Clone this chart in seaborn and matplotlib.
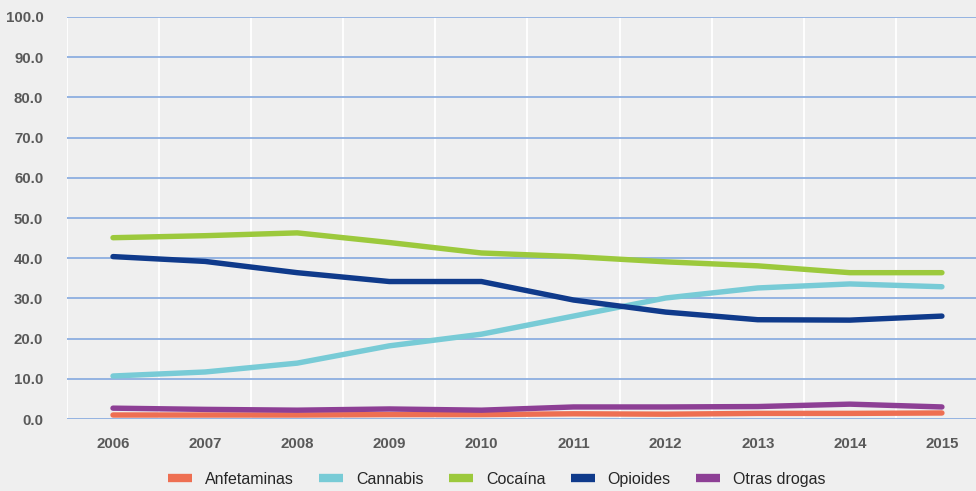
import matplotlib
matplotlib.use("Agg")
import matplotlib.pyplot as plt
import numpy as np
import pandas as pd
import seaborn as sns

years = ["2006", "2007", "2008", "2009", "2010", "2011", "2012", "2013", "2014", "2015"]
anfetaminas = [1.0, 1.0, 1.0, 1.1, 1.1, 1.3, 1.2, 1.4, 1.4, 1.5]
cannabis = [10.7, 11.7, 13.9, 18.2, 21.1, 25.6, 30.1, 32.6, 33.6, 32.9]
cocaina = [45.1, 45.6, 46.3, 43.9, 41.3, 40.4, 39.1, 38.1, 36.4, 36.4]
opioides = [40.4, 39.2, 36.4, 34.2, 34.2, 29.6, 26.6, 24.7, 24.6, 25.6]
otras = [2.7, 2.4, 2.2, 2.5, 2.2, 3.0, 3.0, 3.1, 3.7, 3.0]

series = {
    "Anfetaminas": anfetaminas,
    "Cannabis": cannabis,
    "Cocaína": cocaina,
    "Opioides": opioides,
    "Otras drogas": otras,
}
colors = {
    "Anfetaminas": "#ee6f52",
    "Cannabis": "#78cbd6",
    "Cocaína": "#9cc93c",
    "Opioides": "#0f3a8b",
    "Otras drogas": "#8d3f95",
}

rows = []
for name, values in series.items():
    for i, v in enumerate(values):
        rows.append({"pos": i, "year": years[i], "serie": name, "valor": v})
df = pd.DataFrame(rows)

sns.set_theme(style="white")
plt.rcParams["font.family"] = ["Liberation Sans", "DejaVu Sans"]

bg = "#efefef"
fig = plt.figure(figsize=(9.76, 4.91), dpi=100, facecolor=bg)
ax = fig.add_axes([0.0686, 0.1466, 0.9314, 0.8188])
ax.set_facecolor(bg)

sns.lineplot(data=df, x="pos", y="valor", hue="serie", palette=colors,
             linewidth=3.9, ax=ax, sort=False, zorder=3)

ax.set_yticks(np.arange(0, 101, 10))
ax.set_yticklabels([f"{v:.1f}" for v in np.arange(0, 101, 10)],
                   color="#595959", fontsize=10.8, fontweight="bold")
ax.set_xticks(range(len(years)))
ax.set_xticklabels(years, color="#595959", fontsize=10.8, fontweight="bold")
ax.set_xticks(np.arange(-0.5, 10, 1), minor=True)
ax.set_xlim(-0.5, 9.37)
ax.set_ylim(0, 100)
ax.tick_params(axis="x", which="major", length=0, pad=13)
ax.tick_params(axis="x", which="minor", length=13, color="#b9cbe6", width=1)
ax.tick_params(axis="y", length=0, pad=17)

ax.grid(axis="y", color="#8daee0", linewidth=1.3, zorder=1)
ax.grid(axis="x", which="minor", color="white", linewidth=1.3, zorder=0)
ax.set_axisbelow(True)
for side in ["top", "right", "left", "bottom"]:
    ax.spines[side].set_visible(False)
ax.set_xlabel("")
ax.set_ylabel("")

handles, labels = ax.get_legend_handles_labels()
for h in handles:
    h.set_linewidth(6)
    h.set_solid_capstyle("butt")
ax.legend(handles, labels, loc="lower center", bbox_to_anchor=(0.473, -0.205),
          ncol=5, frameon=False, fontsize=11.5, handlelength=1.5,
          columnspacing=1.6, handletextpad=0.8)

fig.savefig("out.png", dpi=100, facecolor=bg)
